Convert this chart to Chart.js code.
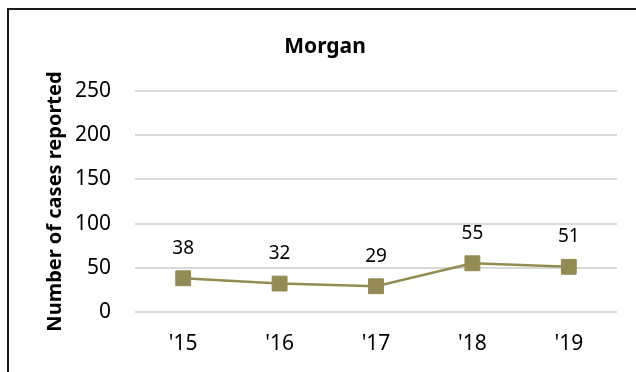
<!DOCTYPE html>
<html>
<head>
    <title>Morgan</title>
    <script src="https://cdn.jsdelivr.net/npm/chart.js"></script>
    <style>
        body { margin: 0; background: #fff; overflow: hidden; }
        #frame { position: absolute; left: 7px; top: 8px; width: 700px; height: 400px;
                 border-left: 2px solid #1a1a1a; border-top: 2px solid #1a1a1a; }
        #wrap { position: absolute; left: 0; top: 0; width: 627px; height: 362px; }
    </style>
</head>
<body>
    <div id="frame"><div id="wrap"><canvas id="lineChart"></canvas></div></div>
    <script>
        const years = ["'15", "'16", "'17", "'18", "'19"];
        const cases = [38, 32, 29, 55, 51];
        const yTicks = [0, 50, 100, 150, 200, 250];
        const lineColor = '#948a54';
        const fontFamily = "'Noto Sans', 'Open Sans', sans-serif";

        //Value labels above each point
        const valueLabels = {
            id: 'valueLabels',
            afterDatasetsDraw(chart) {
                const ctx = chart.ctx;
                const meta = chart.getDatasetMeta(0);
                ctx.save();
                ctx.font = '19px ' + fontFamily;
                ctx.fillStyle = '#000';
                ctx.textAlign = 'center';
                ctx.textBaseline = 'middle';
                meta.data.forEach((pt, i) => {
                    ctx.fillText(String(cases[i]), pt.x, pt.y - 30);
                });
                ctx.restore();
            }
        };

        const ctx = document.getElementById('lineChart').getContext('2d');
        new Chart(ctx, {
            type: 'line',
            data: {
                labels: years,
                datasets: [{
                    data: cases,
                    borderColor: lineColor,
                    backgroundColor: lineColor,
                    borderWidth: 2.5,
                    pointStyle: 'rect',
                    pointRadius: 10.5,
                    pointBorderWidth: 1,
                    pointBorderColor: lineColor,
                    pointBackgroundColor: lineColor,
                    tension: 0
                }]
            },
            options: {
                responsive: true,
                maintainAspectRatio: false,
                animation: false,
                layout: { padding: { left: 24, right: 19, top: 12, bottom: 3 } },
                plugins: {
                    legend: { display: false },
                    tooltip: { enabled: false },
                    title: {
                        display: true,
                        text: 'Morgan',
                        color: '#000',
                        font: { family: fontFamily, size: 21, weight: 'bold' },
                        padding: { top: 12, bottom: 32 }
                    }
                },
                scales: {
                    x: {
                        offset: true,
                        grid: { display: false },
                        border: { display: false },
                        ticks: { color: '#000', font: { family: fontFamily, size: 21 }, padding: 12 }
                    },
                    y: {
                        min: yTicks[0],
                        max: yTicks[yTicks.length - 1],
                        afterBuildTicks: axis => { axis.ticks = yTicks.map(v => ({ value: v })); },
                        afterFit: axis => { axis.width = 102; },
                        grid: { color: '#d9d9d9', lineWidth: 2, drawTicks: false },
                        border: { display: false },
                        ticks: { color: '#000', font: { family: fontFamily, size: 21 }, padding: 24 },
                        title: {
                            display: true,
                            text: 'Number of cases reported',
                            color: '#000',
                            font: { family: fontFamily, size: 20, weight: 'bold' },
                            padding: { top: 10, bottom: 0 }
                        }
                    }
                }
            },
            plugins: [valueLabels]
        });
    </script>
</body>
</html>
